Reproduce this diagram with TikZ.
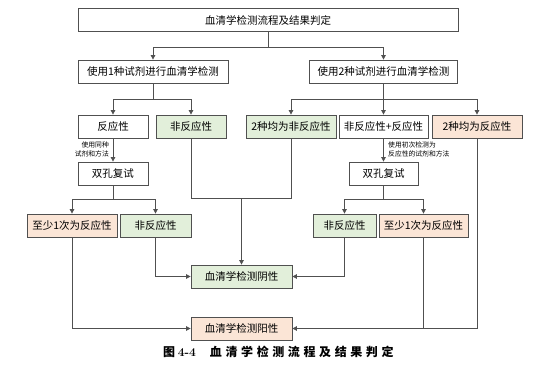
\documentclass[tikz,border=0pt]{standalone}
\usepackage{fontspec}
\newfontfamily\cjk{Noto Sans CJK SC}
\usetikzlibrary{arrows.meta}
\definecolor{linegray}{RGB}{80,80,80}
\definecolor{boxgreen}{RGB}{226,239,218}
\definecolor{boxorange}{RGB}{251,229,214}
\begin{document}
\begin{tikzpicture}[x=1pt,y=-1pt,
  every node/.style={font=\cjk\fontsize{10.5}{12}\selectfont},
  box/.style={draw=linegray, fill=white, line width=0.8pt, inner sep=0pt, minimum height=23pt},
  greenbox/.style={box, fill=boxgreen},
  orangebox/.style={box, fill=boxorange},
  note/.style={font=\cjk\fontsize{6.8}{9}\selectfont, inner sep=0pt},
  wire/.style={linegray, line width=0.8pt},
  arr/.style={wire, -{Triangle[length=4.5pt,width=4.5pt]}}]
\useasboundingbox[fill=white] (0,0) rectangle (550,367);
\node[box, minimum width=380pt] (title) at (268,20) {血清学检测流程及结果判定};
\node[box, minimum width=150pt] (use1) at (153,71.5) {使用1种试剂进行血清学检测};
\node[box, minimum width=148pt] (use2) at (383.5,71.5) {使用2种试剂进行血清学检测};
\node[box, minimum width=70pt] (react1) at (113,126.5) {反应性};
\node[greenbox, minimum width=70pt] (nonreact1) at (191,126.5) {非反应性};
\node[greenbox, minimum width=90pt] (bothneg) at (291,126.5) {2种均为非反应性};
\node[box, minimum width=89pt] (mixed) at (383.5,126.5) {非反应性+反应性};
\node[orangebox, minimum width=90pt] (bothpos) at (477,126.5) {2种均为反应性};
\node[box, minimum width=70pt] (retest1) at (113,173.5) {双孔复试};
\node[box, minimum width=69pt] (retest2) at (383.5,173.5) {双孔复试};
\node[orangebox, minimum width=90pt] (once1) at (72,225.5) {至少1次为反应性};
\node[greenbox, minimum width=71pt] (nonreact2) at (155.5,225.5) {非反应性};
\node[greenbox, minimum width=63pt] (nonreact3) at (344.5,225.5) {非反应性};
\node[orangebox, minimum width=89pt] (once2) at (423.5,225.5) {至少1次为反应性};
\node[greenbox, minimum width=101pt] (negative) at (241.5,276.5) {血清学检测阴性};
\node[orangebox, minimum width=101pt] (positive) at (241.5,328.5) {血清学检测阳性};
\node[note, anchor=east, align=right] (note1) at (109,149.5) {使用同种\\试剂和方法};
\node[note, anchor=west, align=left] (note2) at (388,149.5) {使用初次检测为\\反应性的试剂和方法};
\node[anchor=west, inner sep=0pt, font=\cjk\bfseries\fontsize{12}{14}\selectfont] (caption) at (163,352) {图 {\rmfamily\bfseries 4-4}\hspace{14pt}\addfontfeature{LetterSpace=30}血清学检测流程及结果判定};
\coordinate (split0) at (268,47);
\coordinate (split1) at (153,99);
\coordinate (split2) at (383.5,99);
\coordinate (split3) at (113,199);
\coordinate (split4) at (383.5,199);
\coordinate (join1) at (241.5,198);
\draw[wire] (title) -- (split0);
\draw[arr] (split0) -| (use1);
\draw[arr] (split0) -| (use2);
\draw[wire] (use1) -- (split1);
\draw[arr] (split1) -| (react1);
\draw[arr] (split1) -| (nonreact1);
\draw[wire] (use2) -- (split2);
\draw[arr] (split2) -| (bothneg);
\draw[arr] (split2) -- (mixed);
\draw[arr] (split2) -| (bothpos);
\draw[arr] (react1) -- (retest1);
\draw[arr] (mixed) -- (retest2);
\draw[wire] (retest1) -- (split3);
\draw[arr] (split3) -| (once1);
\draw[arr] (split3) -| (nonreact2);
\draw[wire] (retest2) -- (split4);
\draw[arr] (split4) -| (nonreact3);
\draw[arr] (split4) -| (once2);
\draw[wire] (nonreact1) |- (join1);
\draw[wire] (bothneg) |- (join1);
\draw[arr] (join1) -- (negative);
\draw[arr] (nonreact2) |- (negative);
\draw[arr] (nonreact3) |- (negative);
\draw[arr] (once1) |- (positive);
\draw[arr] (bothpos) |- (positive);
\draw[wire] (once2) -- (once2 |- positive);
\end{tikzpicture}
\end{document}
